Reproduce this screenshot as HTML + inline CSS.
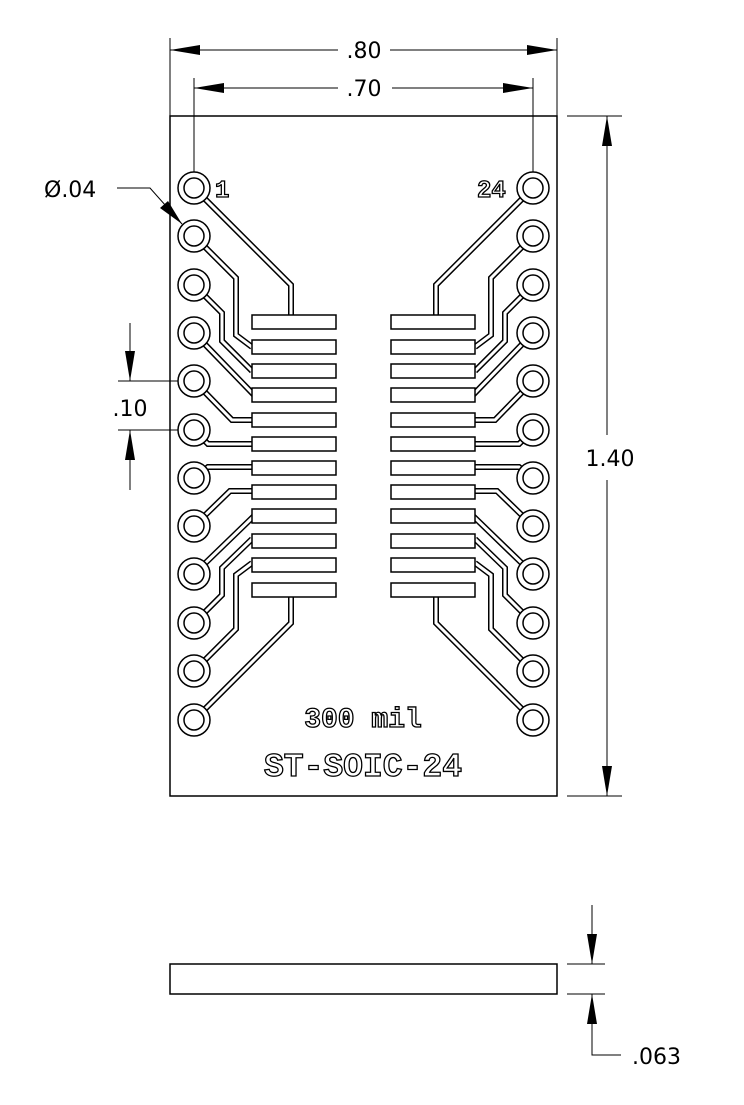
<!DOCTYPE html>
<html><head><meta charset="utf-8"><style>
html,body{margin:0;padding:0;background:#fff;}
svg{display:block;}
.t{font-family:"DejaVu Sans","Liberation Sans",sans-serif;fill:#000;}
.m{font-family:"Liberation Mono",monospace;font-weight:bold;fill:#fff;stroke:#000;stroke-width:1.3;}
</style></head><body>
<svg width="744" height="1105" viewBox="0 0 744 1105" xmlns="http://www.w3.org/2000/svg">
<defs>
<g id="half">
  <g fill="none" stroke="#000" stroke-width="6" stroke-linejoin="miter">
    <polyline points="194,188 291,285 291,316"/>
    <polyline points="194,236 236,278 236,335 252,347"/>
    <polyline points="194,285 222,313 222,341 252,371"/>
    <polyline points="194,333 255,396"/>
    <polyline points="194,381 232,420 255,420"/>
    <polyline points="194,430 208,444 255,444"/>
    <polyline points="194,478 208,467 255,467"/>
    <polyline points="194,526 230,491 255,491"/>
    <polyline points="194,574 255,515"/>
    <polyline points="194,623 222,595 222,568 252,539"/>
    <polyline points="194,671 236,629 236,575 252,563"/>
    <polyline points="194,720 291,623 291,596"/>
  </g>
  <g fill="none" stroke="#fff" stroke-width="3" stroke-linejoin="miter">
    <polyline points="194,188 291,285 291,316"/>
    <polyline points="194,236 236,278 236,335 252,347"/>
    <polyline points="194,285 222,313 222,341 252,371"/>
    <polyline points="194,333 255,396"/>
    <polyline points="194,381 232,420 255,420"/>
    <polyline points="194,430 208,444 255,444"/>
    <polyline points="194,478 208,467 255,467"/>
    <polyline points="194,526 230,491 255,491"/>
    <polyline points="194,574 255,515"/>
    <polyline points="194,623 222,595 222,568 252,539"/>
    <polyline points="194,671 236,629 236,575 252,563"/>
    <polyline points="194,720 291,623 291,596"/>
  </g>
  <g fill="#fff" stroke="#000" stroke-width="1.5">
    <rect x="252" y="315" width="84" height="14"/>
    <rect x="252" y="340" width="84" height="14"/>
    <rect x="252" y="364" width="84" height="14"/>
    <rect x="252" y="388" width="84" height="14"/>
    <rect x="252" y="413" width="84" height="14"/>
    <rect x="252" y="437" width="84" height="14"/>
    <rect x="252" y="461" width="84" height="14"/>
    <rect x="252" y="485" width="84" height="14"/>
    <rect x="252" y="509" width="84" height="14"/>
    <rect x="252" y="534" width="84" height="14"/>
    <rect x="252" y="558" width="84" height="14"/>
    <rect x="252" y="583" width="84" height="14"/>
  </g>
  <g fill="#fff" stroke="#000" stroke-width="1.5">
    <circle cx="194" cy="188" r="16"/><circle cx="194" cy="188" r="10"/>
    <circle cx="194" cy="236" r="16"/><circle cx="194" cy="236" r="10"/>
    <circle cx="194" cy="285" r="16"/><circle cx="194" cy="285" r="10"/>
    <circle cx="194" cy="333" r="16"/><circle cx="194" cy="333" r="10"/>
    <circle cx="194" cy="381" r="16"/><circle cx="194" cy="381" r="10"/>
    <circle cx="194" cy="430" r="16"/><circle cx="194" cy="430" r="10"/>
    <circle cx="194" cy="478" r="16"/><circle cx="194" cy="478" r="10"/>
    <circle cx="194" cy="526" r="16"/><circle cx="194" cy="526" r="10"/>
    <circle cx="194" cy="574" r="16"/><circle cx="194" cy="574" r="10"/>
    <circle cx="194" cy="623" r="16"/><circle cx="194" cy="623" r="10"/>
    <circle cx="194" cy="671" r="16"/><circle cx="194" cy="671" r="10"/>
    <circle cx="194" cy="720" r="16"/><circle cx="194" cy="720" r="10"/>
  </g>
</g>
</defs>

<rect x="170" y="116" width="387" height="680" fill="#fff" stroke="#000" stroke-width="1.5"/>
<use href="#half"/>
<use href="#half" transform="translate(727,0) scale(-1,1)"/>

<text class="m" x="215" y="197" font-size="24">1</text>
<text class="m" x="477" y="197" font-size="24">24</text>
<text class="m" x="363" y="727" font-size="28" text-anchor="middle">300 mil</text>
<text class="m" x="363" y="776" font-size="33" text-anchor="middle">ST-SOIC-24</text>

<g stroke="#000" stroke-width="1" fill="none">
  <line x1="170" y1="38" x2="170" y2="116"/>
  <line x1="557" y1="38" x2="557" y2="116"/>
  <line x1="170" y1="50" x2="338" y2="50"/>
  <line x1="390" y1="50" x2="557" y2="50"/>
  <line x1="194" y1="78" x2="194" y2="172"/>
  <line x1="533" y1="78" x2="533" y2="172"/>
  <line x1="194" y1="88" x2="338" y2="88"/>
  <line x1="392" y1="88" x2="533" y2="88"/>
  <line x1="567" y1="116" x2="622" y2="116"/>
  <line x1="567" y1="796" x2="622" y2="796"/>
  <line x1="607" y1="116" x2="607" y2="435"/>
  <line x1="607" y1="480" x2="607" y2="796"/>
  <line x1="118" y1="381" x2="178" y2="381"/>
  <line x1="118" y1="430" x2="178" y2="430"/>
  <line x1="130" y1="323" x2="130" y2="381"/>
  <line x1="130" y1="430" x2="130" y2="490"/>
  <polyline points="117,188 150,188 182,224"/>
  <line x1="567" y1="964" x2="605" y2="964"/>
  <line x1="567" y1="994" x2="605" y2="994"/>
  <line x1="592" y1="905" x2="592" y2="964"/>
  <polyline points="592,994 592,1055 621,1055"/>
</g>
<rect x="170" y="964" width="387" height="30" fill="#fff" stroke="#000" stroke-width="1.5"/>

<g fill="#000">
  <polygon points="170,50 200,45 200,55"/>
  <polygon points="557,50 527,45 527,55"/>
  <polygon points="194,88 224,83 224,93"/>
  <polygon points="533,88 503,83 503,93"/>
  <polygon points="607,116 602,146 612,146"/>
  <polygon points="607,796 602,766 612,766"/>
  <polygon points="130,381 125,351 135,351"/>
  <polygon points="130,430 125,460 135,460"/>
  <polygon points="182,224 160,208 168,201"/>
  <polygon points="592,964 587,934 597,934"/>
  <polygon points="592,994 587,1024 597,1024"/>
</g>

<text class="t" x="364" y="58" font-size="22" text-anchor="middle">.80</text>
<text class="t" x="364" y="96" font-size="22" text-anchor="middle">.70</text>
<text class="t" x="610" y="466" font-size="22" text-anchor="middle">1.40</text>
<text class="t" x="130" y="416" font-size="22" text-anchor="middle">.10</text>
<text class="t" x="44" y="197" font-size="22">Ø.04</text>
<text class="t" x="632" y="1064" font-size="22">.063</text>
</svg>
</body></html>
